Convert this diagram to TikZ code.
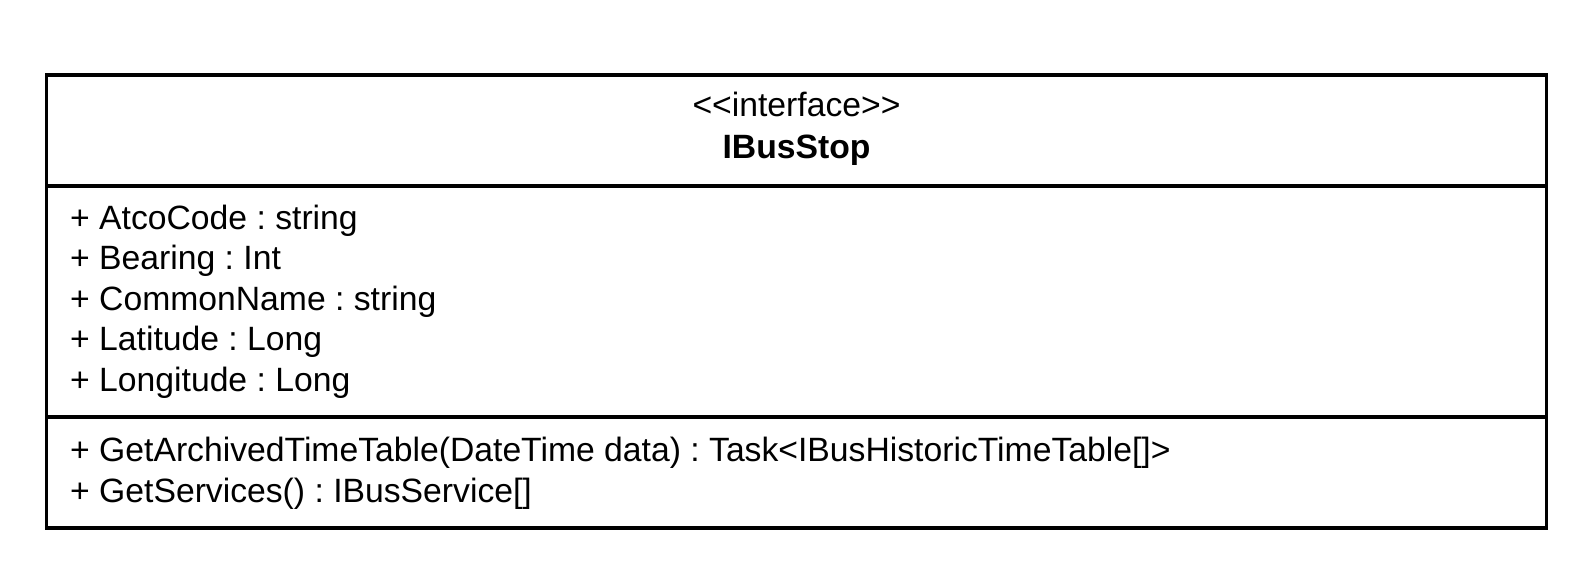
\documentclass[tikz,border=0pt]{standalone}
\usepackage{fontspec}
\setmainfont{Liberation Sans}
\frenchspacing

\tikzstyle{umlline}=[draw, line width=3.3pt]
\tikzstyle{member}=[anchor=base west, inner sep=0pt, font=\fontsize{33.7}{40}\selectfont]
\tikzstyle{header}=[anchor=base, inner sep=0pt, font=\fontsize{33.7}{40}\selectfont]

\begin{document}
\begin{tikzpicture}[x=1pt, y=-1pt]
	    \useasboundingbox (0,0) rectangle (1584,583);
	    \coordinate (nw) at (46.5,75);
	    \coordinate (se) at (1546.5,528);
	    \coordinate (hl) at (46.5,186);
	    \coordinate (hr) at (1546.5,186);
	    \coordinate (ml) at (46.5,417);
	    \coordinate (mr) at (1546.5,417);
	    \path[umlline] (nw) rectangle (se);
	    \path[umlline] (hl) -- (hr);
	    \path[umlline] (ml) -- (mr);
	    \node[header] (stereo) at (796.5,117) {<{}<interface>{}>};
	    \node[header, font=\fontsize{33.7}{40}\selectfont\bfseries] (name) at (796.5,158.5) {IBusStop};
	    \foreach \y/\name/\txt in {229/atco/{+ AtcoCode : string}, 269.5/bearing/{+ Bearing : Int}, 310/common/{+ CommonName : string}, 350.5/lat/{+ Latitude : Long}, 391/lon/{+ Longitude : Long}}
	        \node[member] (\name) at (70,\y) {\txt};
	    \foreach \y/\name/\txt in {461.5/archived/{+ GetArchivedTimeTable(DateTime data) : Task<IBusHistoricTimeTable[]>}, 502/services/{+ GetServices() : IBusService[]}}
	        \node[member] (\name) at (70,\y) {\txt};
	\end{tikzpicture}
\end{document}
